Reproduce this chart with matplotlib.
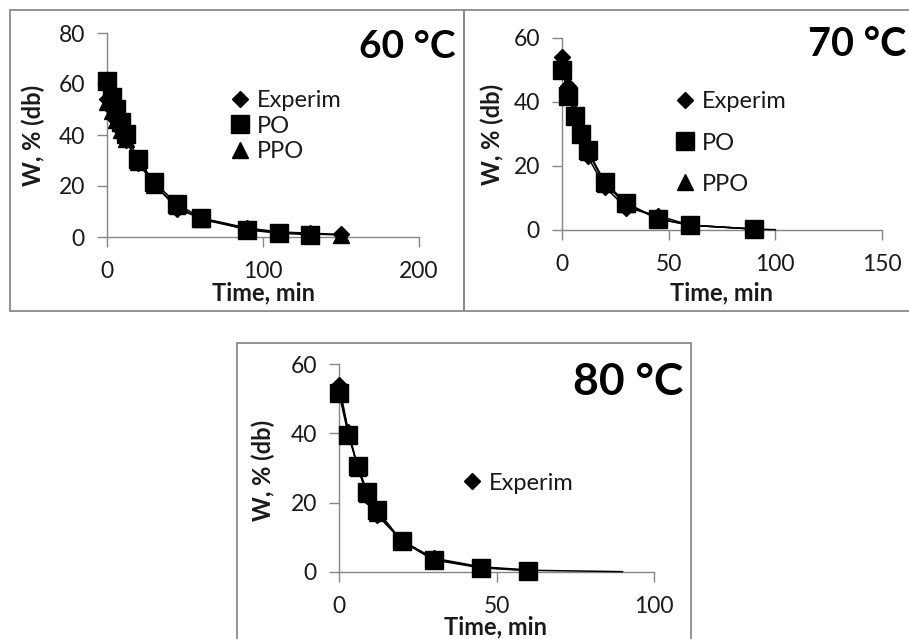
"""Drying curves W vs time at 60, 70 and 80 °C: experiment vs PO / PPO models."""

import matplotlib

matplotlib.use("Agg")
import matplotlib.pyplot as plt
from matplotlib.lines import Line2D
from matplotlib.patches import Rectangle

plt.rcParams["font.family"] = ["Lato", "DejaVu Sans"]

W_PX, H_PX = 909, 639
GRAY = "#868686"
TXT = "#1a1a1a"

# 60 °C
t_60 = [0, 3, 6, 9, 12, 20, 30, 45, 60, 90, 110, 130, 150]
exp_60 = [54, 50, 46, 42, 38, 29, 21, 11, 7.5, 3.5, 2, 1.5, 1]
t_po_60 = [0, 3, 6, 9, 12, 20, 30, 45, 60, 90, 110, 130]
po_60 = [61, 55, 50, 45, 40.5, 30.5, 21.5, 13, 7.5, 2.8, 1.5, 0.9]
ppo_60 = [53, 49.5, 46, 42, 38.5, 29.5, 20.5, 12, 7, 3, 1.8, 1.2, 0.8]

# 70 °C
t_70 = [0, 3, 6, 9, 12, 20, 30, 45, 60, 90]
exp_70 = [54, 45, 36, 29, 23, 13.5, 7, 4.5, 1.5, 0.3]
po_70 = [50, 42, 35.5, 30, 25, 15, 8.5, 3.5, 1.5, 0.3]
t_ppo_70 = [0, 3, 6, 9, 12, 20, 30, 45, 60, 90, 100]
ppo_70 = [53, 44, 36.5, 30, 24.5, 14.5, 8, 3.5, 1.5, 0.3, 0.1]

# 80 °C
t_80 = [0, 3, 6, 9, 12, 20, 30, 45, 60]
exp_80 = [54, 40.5, 30, 22, 16.5, 9, 4, 1.5, 0.6]
po_80 = [51.5, 39.5, 30.5, 23, 18, 8.8, 3.5, 1.2, 0.4]
t_ppo_80 = [0, 3, 6, 9, 12, 20, 30, 45, 60, 90]
ppo_80 = [53, 40, 30, 22.5, 17, 9, 3.8, 1.3, 0.5, 0.1]


def fx(px):
    return px / W_PX


def fy(py):
    return 1 - py / H_PX


def add_panel_axes(fig, x0, x1, y_top, y_bot, xmax, xstep, ymax, ystep):
    ax = fig.add_axes([fx(x0), fy(y_bot), (x1 - x0) / W_PX, (y_bot - y_top) / H_PX])
    ax.set_xlim(0, xmax)
    ax.set_ylim(0, ymax)
    ax.set_xticks(range(0, xmax + 1, xstep))
    ax.set_yticks(range(0, ymax + 1, ystep))
    for side in ("top", "right"):
        ax.spines[side].set_visible(False)
    for side in ("left", "bottom"):
        ax.spines[side].set_color(GRAY)
        ax.spines[side].set_linewidth(1.0)
    ax.tick_params(direction="out", length=7, width=1.0, color=GRAY,
                   labelsize=16.5, labelcolor=TXT)
    ax.tick_params(axis="x", pad=10)
    ax.tick_params(axis="y", pad=9)
    ax.set_facecolor("none")
    return ax


def draw_series(ax, t_exp, exp, t_po, po, t_ppo, ppo, n_ppo_marks=None):
    kw = dict(color="black", lw=1.1, clip_on=False)
    ax.plot(t_exp, exp, marker="D", ms=8.5, zorder=3, **kw)
    ppo_marks = list(range(n_ppo_marks if n_ppo_marks else len(t_ppo)))
    ax.plot(t_ppo, ppo, marker="^", ms=12, markevery=ppo_marks, zorder=4, **kw)
    ax.plot(t_po, po, marker="s", ms=12.5, zorder=5, **kw)


def add_legend(ax, x, y, labels, spacing):
    markers = {"Experim": ("D", 8.5), "PO": ("s", 12.5), "PPO": ("^", 12)}
    handles = [Line2D([], [], ls="none", marker=markers[k][0], ms=markers[k][1],
                      color="black") for k in labels]
    ax.legend(handles, labels, loc="center left", bbox_to_anchor=(fx(x), fy(y)),
              bbox_transform=ax.figure.transFigure, frameon=False, fontsize=17,
              handlelength=0.7, handletextpad=0.35, labelspacing=spacing,
              borderpad=0, borderaxespad=0, labelcolor=TXT)


fig = plt.figure(figsize=(W_PX / 100, H_PX / 100), dpi=100)

# panel frames
for x0, y0, x1, y1 in [(10, 10, 464, 311), (464, 10, 912, 311), (237, 343, 691, 645)]:
    fig.patches.append(Rectangle((fx(x0), fy(y1)), (x1 - x0) / W_PX, (y1 - y0) / H_PX,
                                 transform=fig.transFigure, fill=False,
                                 edgecolor="#8a8a8a", lw=1.3, zorder=0))

# 60 °C
ax1 = add_panel_axes(fig, 107, 419, 33, 237, 200, 100, 80, 20)
draw_series(ax1, t_60, exp_60, t_po_60, po_60, t_60, ppo_60)
add_legend(ax1, 232, 126, ["Experim", "PO", "PPO"], 0.2)
fig.text(fx(456), fy(47), "60 °C", ha="right", va="center", fontsize=28,
         fontweight="bold", color="black")
fig.text(fx(263), fy(293), "Time, min", ha="center", va="center", fontsize=17,
         fontweight="bold", color=TXT)
fig.text(fx(33), fy(135), "W, % (db)", ha="center", va="center", rotation=90,
         fontsize=17, fontweight="bold", color=TXT)

# 70 °C
ax2 = add_panel_axes(fig, 562, 882, 38, 230, 150, 50, 60, 20)
draw_series(ax2, t_70, exp_70, t_70, po_70, t_ppo_70, ppo_70, n_ppo_marks=len(t_70))
add_legend(ax2, 677, 143, ["Experim", "PO", "PPO"], 0.85)
fig.text(fx(906), fy(45), "70 °C", ha="right", va="center", fontsize=28.5,
         fontweight="bold", color="black")
fig.text(fx(722), fy(293), "Time, min", ha="center", va="center", fontsize=17,
         fontweight="bold", color=TXT)
fig.text(fx(492), fy(134), "W, % (db)", ha="center", va="center", rotation=90,
         fontsize=17, fontweight="bold", color=TXT)

# 80 °C
ax3 = add_panel_axes(fig, 339, 654, 364, 572, 100, 50, 60, 20)
draw_series(ax3, t_80, exp_80, t_80, po_80, t_ppo_80, ppo_80, n_ppo_marks=len(t_80))
add_legend(ax3, 464, 483, ["Experim"], 0.3)
fig.text(fx(683), fy(382), "80 °C", ha="right", va="center", fontsize=32,
         fontweight="bold", color="black")
fig.text(fx(496), fy(627), "Time, min", ha="center", va="center", fontsize=17,
         fontweight="bold", color=TXT)
fig.text(fx(263), fy(470), "W, % (db)", ha="center", va="center", rotation=90,
         fontsize=17, fontweight="bold", color=TXT)

fig.savefig("out.png", dpi=100)
